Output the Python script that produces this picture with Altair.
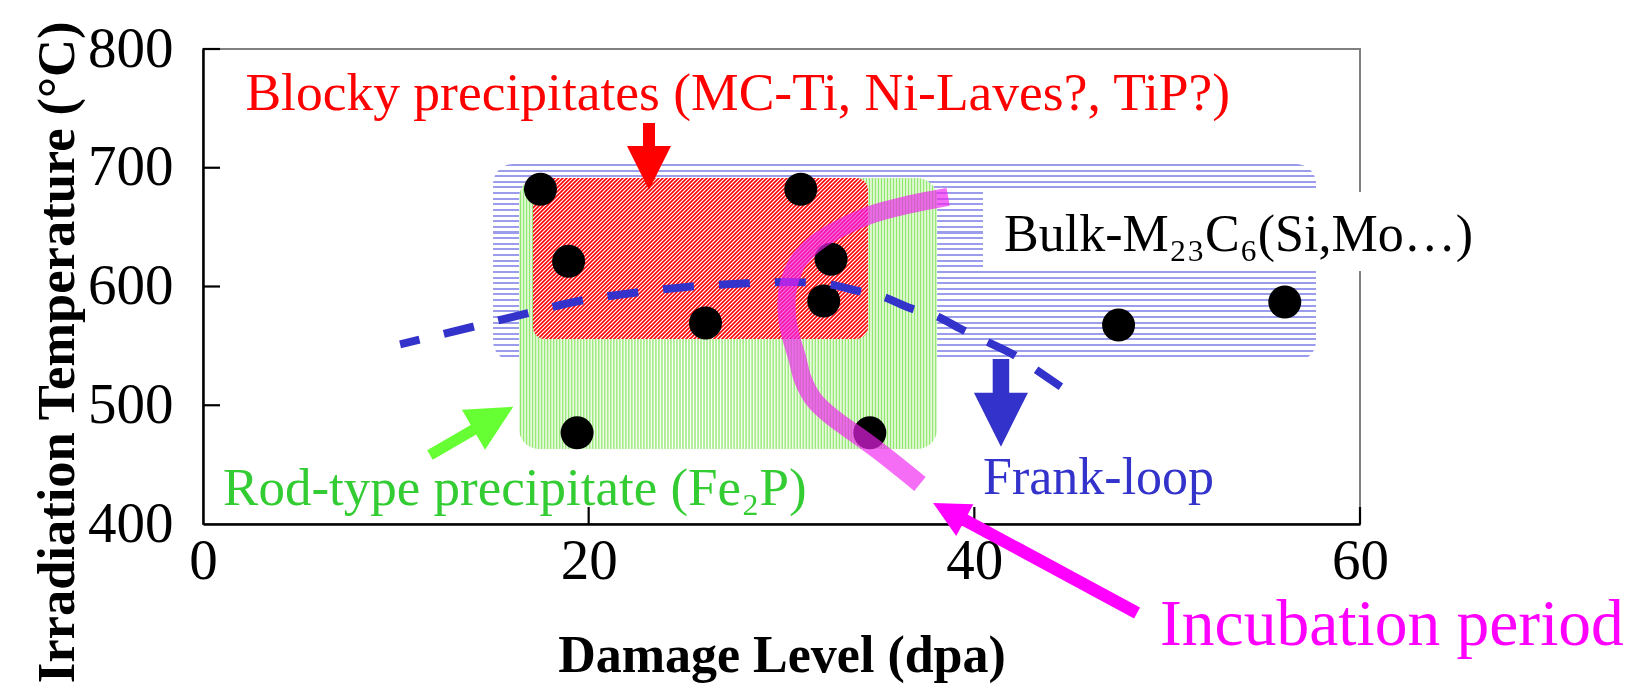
import math
import altair as alt
import pandas as pd

FONT = "Liberation Serif"

# ---------------- data ----------------
# irradiation conditions (dose, temperature)
dose_dpa = [17.5, 18.96, 19.4, 26.06, 31.0, 32.57, 32.19, 34.58, 47.48, 56.1]
temp_c = [681.9, 621.2, 476.8, 569.3, 681.9, 623.0, 587.8, 476.8, 567.5, 586.9]

# Frank-loop boundary (dashed)
frank_dpa = [10.22, 14.0, 16.8, 19.55, 22.4, 25.2, 28.21, 30.44, 32.41, 33.9,
             35.26, 36.72, 37.91, 39.41, 40.66, 42.06, 43.09, 44.49]
frank_temp = [551.3, 566.1, 577.4, 588.0, 594.8, 599.8, 602.7, 603.8, 601.9, 596.5,
              591.4, 581.6, 576.0, 563.4, 553.5, 542.3, 531.1, 515.6]

# incubation-period boundary
incub_dpa = [38.64, 36.51, 34.59, 32.88, 31.79, 30.91, 30.49, 30.29, 30.29,
             30.49, 30.80, 31.12, 31.69, 32.62, 34.90, 37.18]
incub_temp = [675.4, 668.6, 660.2, 647.6, 636.6, 622.3, 608.0, 594.5, 574.3,
              557.5, 540.6, 521.3, 504.4, 490.1, 463.2, 433.7]

# precipitate regions: M23C6 (blue), Fe2P (green), blocky (red)
region_x0 = [15.04, 16.39, 17.11]
region_x1 = [57.72, 38.07, 34.49]
region_top = [703.2, 691.4, 691.4]
region_bottom = [537.3, 463.2, 555.8]

# blank panel behind the M23C6 label
panel_x = [40.45, 66.74]
panel_y = [613.1, 679.6]

# arrows: red, blue, green, magenta
arrow_tail_x = [23.13, 41.38, 11.77, 48.44]
arrow_tail_y = [737.7, 538.9, 458.1, 325.1]
arrow_tip_x = [23.13, 41.38, 16.09, 37.86]
arrow_tip_y = [681.3, 465.1, 498.8, 417.7]

# annotation texts and anchor points
labels = ["Blocky precipitates (MC-Ti, Ni-Laves?, TiP?)",
          "Bulk-M\u2082\u2083C\u2086(Si,Mo\u2026)",
          "Rod-type precipitate (Fe\u2082P)",
          "Frank-loop",
          "Incubation period"]
label_x = [2.2, 41.54, 1.04, 40.45, 49.63]
label_y = [748.6, 630.0, 416.0, 425.3, 298.1]

x_ticks = [0, 20, 40, 60]
y_ticks = [400, 500, 600, 700, 800]

# ---------------- styling ----------------
W, H = 1157, 475
X_DOM, Y_DOM = [0, 60], [400, 800]
kx = W / (X_DOM[1] - X_DOM[0])
ky = H / (Y_DOM[1] - Y_DOM[0])

arrow_colors = ["#ff0000", "#3333cc", "#66ff33", "#ff00ff"]
arrow_head_len = [44, 54, 46, 36]
arrow_shaft_w = [12, 16.5, 11, 12.5]
label_colors = ["#ff0000", "#000000", "#33cc33", "#3333cc", "#ff00ff"]
label_sizes = [53.5, 52, 53, 52, 65.5]

xs = alt.Scale(domain=X_DOM, nice=False, zero=False)
ys = alt.Scale(domain=Y_DOM, nice=False, zero=False)

x_axis = alt.Axis(values=x_ticks, ticks=False, tickSize=0, grid=False,
                  domainColor="black", domainWidth=2.5, labelFont=FONT,
                  labelFontSize=57, labelColor="black", labelPadding=9.5,
                  labelFlush=False, format="d",
                  title="Damage Level (dpa)", titleFont=FONT, titleFontSize=52,
                  titleFontWeight="bold", titleColor="black", titleY=147,
                  titleBaseline="alphabetic")
y_axis = alt.Axis(values=y_ticks, ticks=False, tickSize=0, grid=False,
                  domainColor="black", domainWidth=2.5, labelFont=FONT,
                  labelFontSize=57, labelColor="black", labelPadding=30,
                  labelFlush=False, format="d",
                  title="Irradiation Temperature (\u00b0C)", titleFont=FONT,
                  titleFontSize=52.5, titleFontWeight="bold", titleColor="black",
                  titleAngle=270, titleAlign="right", titleBaseline="middle",
                  titleX=-146, titleY=-28)


def X(field):
    return alt.X(field, scale=xs, axis=x_axis)


def Y(field):
    return alt.Y(field, scale=ys, axis=y_axis)


def hard_stripes(color, n, frac, x2, y2):
    stops = []
    for i in range(n):
        a, b, c = i / n, (i + frac) / n, (i + 1) / n
        stops += [alt.GradientStop(color=color, offset=a),
                  alt.GradientStop(color=color, offset=b),
                  alt.GradientStop(color="#ffffff", offset=b),
                  alt.GradientStop(color="#ffffff", offset=min(c, 1.0))]
    return alt.LinearGradient(gradient="linear", stops=stops,
                              x1=0, y1=0, x2=x2, y2=y2)


def soft_stripes(color, n, x2, y2, lo=0.5, hi=0.5):
    # white -> color (held from lo to hi) -> white, once per stripe
    stops = [alt.GradientStop(color="#ffffff", offset=0.0)]
    for i in range(n):
        stops.append(alt.GradientStop(color=color, offset=(i + lo) / n))
        if hi > lo:
            stops.append(alt.GradientStop(color=color, offset=(i + hi) / n))
        stops.append(alt.GradientStop(color="#ffffff",
                                      offset=min((i + 1) / n, 1.0)))
    return alt.LinearGradient(gradient="linear", stops=stops,
                              x1=0, y1=0, x2=x2, y2=y2)


def region_px(i):
    return ((region_x1[i] - region_x0[i]) * kx,
            (region_top[i] - region_bottom[i]) * ky)


# blue: horizontal lines
bw, bh = region_px(0)
blue_fill = hard_stripes("#9c9cec", round(bh / 5.6), 0.36, 0, 1)
# green: fine vertical lines
gw, gh = region_px(1)
green_fill = soft_stripes("#8fe86a", round(gw / 3.0), 1, 0)
# red: fine 45-degree lines
rw, rh = region_px(2)
c = (1 / rh + 1 / rw) / (1 / rh ** 2 + 1 / rw ** 2)
red_fill = soft_stripes("#ff0000", round((rw + rh) / math.sqrt(2) / 2.83),
                        c / rh, c / rw, lo=0.35, hi=0.6)

regions = pd.DataFrame({"x0": region_x0, "x1": region_x1,
                        "top": region_top, "bottom": region_bottom})


def region_layer(i, fill, radius):
    return alt.Chart(regions.iloc[[i]]).mark_rect(
        fill=fill, cornerRadius=radius, strokeWidth=0
    ).encode(x=X("x0:Q"), x2="x1:Q", y=Y("top:Q"), y2="bottom:Q")


blue_layer = region_layer(0, blue_fill, 20)
green_layer = region_layer(1, green_fill, 20)
red_layer = region_layer(2, red_fill, 12)

panel = alt.Chart(pd.DataFrame({"x0": [panel_x[0]], "x1": [panel_x[1]],
                                "y0": [panel_y[0]], "y1": [panel_y[1]]})).mark_rect(
    fill="white", strokeWidth=0
).encode(x=X("x0:Q"), x2="x1:Q", y=Y("y0:Q"), y2="y1:Q")

# inward tick marks
xtick_layer = alt.Chart(pd.DataFrame({"v": x_ticks[1:]})).mark_rule(
    color="black", strokeWidth=2.2
).encode(x=X("v:Q"), y=alt.value(H), y2=alt.value(H - 17))
ytick_layer = alt.Chart(pd.DataFrame({"v": y_ticks[1:]})).mark_rule(
    color="black", strokeWidth=2.2
).encode(y=Y("v:Q"), x=alt.value(0), x2=alt.value(17))

dots = alt.Chart(pd.DataFrame({"dpa": dose_dpa, "temp": temp_c})).mark_point(
    shape="circle", filled=True, size=1089, color="black", opacity=1, strokeWidth=0
).encode(x=X("dpa:Q"), y=Y("temp:Q"))

frank = alt.Chart(pd.DataFrame({"dpa": frank_dpa, "temp": frank_temp})).mark_line(
    color="#3333cc", strokeWidth=8, strokeDash=[31, 25], strokeDashOffset=11,
    interpolate="monotone", strokeCap="butt"
).encode(x=X("dpa:Q"), y=Y("temp:Q"))

incub_df = pd.DataFrame({"dpa": incub_dpa, "temp": incub_temp,
                         "i": list(range(len(incub_dpa)))})
incub = alt.Chart(incub_df).mark_line(
    color="#f020f0", opacity=0.66, strokeWidth=18, interpolate="cardinal",
    strokeCap="butt"
).encode(x=X("dpa:Q"), y=Y("temp:Q"), order="i:Q")

# arrows: shaft ends inside the head, head is a rotated triangle at the tip
rows = []
for tx, ty, px, py, col, hl, sw in zip(arrow_tail_x, arrow_tail_y, arrow_tip_x,
                                       arrow_tip_y, arrow_colors, arrow_head_len,
                                       arrow_shaft_w):
    dx = (px - tx) * kx
    dy = -(py - ty) * ky
    length = math.hypot(dx, dy)
    ux, uy = dx / length, dy / length
    back = 0.6 * hl
    rows.append({
        "tx": tx, "ty": ty,
        "ex": px - back * ux / kx, "ey": py + back * uy / ky,
        "px": px, "py": py,
        "color": col, "sw": sw,
        "angle": math.degrees(math.atan2(dy, dx)) % 360,
        "hsize": (2 * hl) ** 2,
    })
arrows = pd.DataFrame(rows)

shafts = alt.Chart(arrows).mark_rule(strokeCap="butt").encode(
    x=X("tx:Q"), x2="ex:Q", y=Y("ty:Q"), y2="ey:Q",
    color=alt.Color("color:N", scale=None),
    strokeWidth=alt.StrokeWidth("sw:Q", scale=None),
)
heads = alt.Chart(arrows).mark_point(
    shape="M0,0L-1,-0.5L-1,0.5Z", filled=True, opacity=1, strokeWidth=0
).encode(
    x=X("px:Q"), y=Y("py:Q"),
    color=alt.Color("color:N", scale=None),
    size=alt.Size("hsize:Q", scale=None),
    angle=alt.Angle("angle:Q", scale=None),
)

texts = alt.Chart(pd.DataFrame({"x": label_x, "y": label_y, "t": labels,
                                "color": label_colors, "fs": label_sizes})).mark_text(
    align="left", baseline="alphabetic", font=FONT
).encode(
    x=X("x:Q"), y=Y("y:Q"), text="t:N",
    color=alt.Color("color:N", scale=None),
    size=alt.Size("fs:Q", scale=None),
)

chart = alt.layer(
    blue_layer, green_layer, red_layer, panel, xtick_layer, ytick_layer,
    dots, frank, incub, shafts, heads, texts
).properties(
    width=W, height=H,
    padding={"left": 203, "top": 49, "right": 279, "bottom": 160},
    autosize=alt.AutoSizeParams(type="none"),
    background="white",
).configure_view(stroke="#808080", strokeWidth=2)

chart.save("out.html", embed_options={"renderer": "svg", "actions": False})
